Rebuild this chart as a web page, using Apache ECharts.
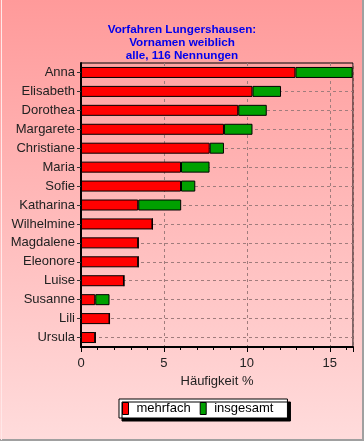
<!DOCTYPE html>
<html><head><meta charset="utf-8">
<script src="https://cdn.jsdelivr.net/npm/echarts@6/dist/echarts.min.js"></script>
<style>html,body{margin:0;padding:0;}#c{width:364px;height:441px;}</style>
</head><body><div id="c"></div>
<script>
const categories = ['Anna','Elisabeth','Dorothea','Margarete','Christiane','Maria','Sofie','Katharina','Wilhelmine','Magdalene','Eleonore','Luise','Susanne','Lili','Ursula'];
const mehrfach = [12.93,10.34,9.48,8.62,7.76,6.03,6.03,3.45,4.31,3.45,3.45,2.59,0.86,1.72,0.86];
const insgesamt = [3.45,1.72,1.72,1.72,0.86,1.72,0.86,2.59,0,0,0,0,0.86,0,0];
const xTicks = [0,5,10,15];
const titleLines = ['Vorfahren Lungershausen:','Vornamen weiblich','alle, 116 Nennungen'];

const font = '"Liberation Sans", Arial, sans-serif';
const chart = echarts.init(document.getElementById('c'));
chart.setOption({
  animation: false,
  backgroundColor: new echarts.graphic.LinearGradient(0,0,0,1,[{offset:0,color:'#ff9a9a'},{offset:1,color:'#ffdcdc'}]),
  title: {
    text: titleLines.join('\n'),
    left: 'center', top: 18,
    textStyle: {color:'#0000ee', fontFamily: font, fontWeight:'bold', fontSize:11.7, lineHeight:13}
  },
  legend: {
    left: 119, top: 399,
    padding: [3, 14, 3, 3],
    backgroundColor: '#ffffff', borderColor: '#000', borderWidth: 1,
    shadowColor: '#000', shadowOffsetX: 3, shadowOffsetY: 3, shadowBlur: 0,
    itemWidth: 6, itemHeight: 12, itemGap: 9,
    icon: 'rect',
    itemStyle: {borderColor:'#000', borderWidth:1},
    textStyle: {color:'#000', fontFamily: font, fontSize: 13, padding:[0,0,0,3]},
    data: ['mehrfach','insgesamt']
  },
  grid: {left: 81, right: 11, top: 63, bottom: 94, show: true, borderColor:'#000', borderWidth:1, backgroundColor:'transparent'},
  xAxis: {
    type: 'value', min: 0, max: 16.4, interval: 5,
    name: 'Häufigkeit %', nameLocation: 'middle', nameGap: 25,
    nameTextStyle: {color:'#222', fontFamily: font, fontSize: 13},
    axisLine: {show:true, lineStyle:{color:'#000', width:2}},
    axisTick: {show:true, length:5, lineStyle:{color:'#000'}},
    minorTick: {show:true, splitNumber:5, length:3, lineStyle:{color:'#000'}},
    axisLabel: {color:'#222', fontFamily: font, fontSize: 13, margin: 10, showMaxLabel:false,
      formatter: v => xTicks.includes(v) ? String(v) : ''},
    splitLine: {show:true, lineStyle:{color:'#a07c7c', type:[3,3], width:1}}
  },
  yAxis: {
    type: 'category', inverse: true, data: categories,
    axisLine: {show:true, lineStyle:{color:'#000', width:2}},
    axisTick: {show:true, alignWithLabel:true, length:4, lineStyle:{color:'#333'}},
    axisLabel: {color:'#222', fontFamily: font, fontSize: 13, margin: 6},
    splitLine: {show:true, alignWithLabel:true, lineStyle:{color:'#a07c7c', type:[3,3], width:1}}
  },
  series: [
    {name:'mehrfach', type:'bar', stack:'a', data: mehrfach, barWidth: 11,
     itemStyle:{color:'#ff0000', borderColor:'#000', borderWidth:1}},
    {name:'insgesamt', type:'bar', stack:'a', data: insgesamt, barWidth: 11,
     itemStyle:{color:'#00a000', borderColor:'#000', borderWidth:1}}
  ],
  graphic: [
    {type:'line', shape:{x1:363, y1:0, x2:363, y2:441}, style:{stroke:'#a0a0a0', lineWidth:2}, silent:true},
    {type:'line', shape:{x1:0, y1:440, x2:364, y2:440}, style:{stroke:'#a0a0a0', lineWidth:2}, silent:true},
    {type:'line', shape:{x1:1.5, y1:0, x2:1.5, y2:440}, style:{stroke:'#ffe8e8', lineWidth:1}, silent:true}
  ]
});
</script></body></html>
